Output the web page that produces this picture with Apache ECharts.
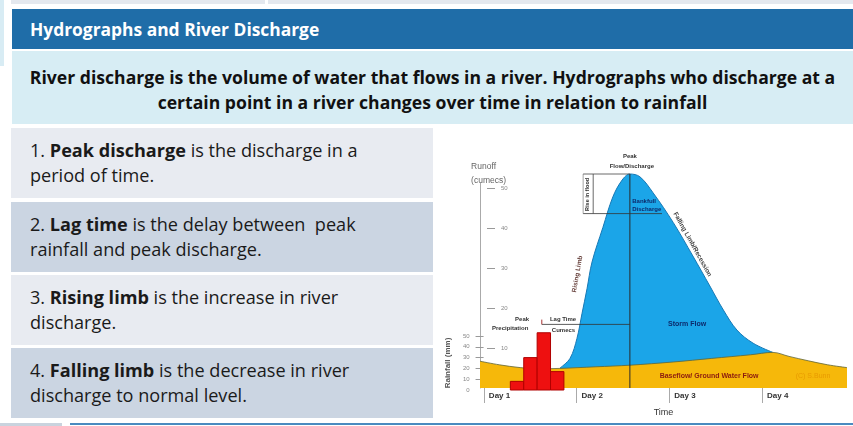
<!DOCTYPE html>
<html>
<head>
<meta charset="utf-8">
<script src="https://cdn.jsdelivr.net/npm/echarts@6/dist/echarts.min.js"></script>
<style>
  html, body { margin: 0; padding: 0; width: 853px; height: 426px; overflow: hidden; background: #fff; font-family: "Open Sans", Lato, sans-serif; }
  .abs { position: absolute; }
  #topstrip1 { left: 11px; top: 0; width: 254px; height: 4px; background: #E4E8EE; }
  #topstrip2 { left: 268px; top: 0; width: 585px; height: 4px; background: #E4E8EE; }
  #leftstrip { left: 0; top: 0; width: 4px; height: 66px; background: #D8ECF4; }
  #header { left: 12px; top: 9px; width: 841px; height: 40px; background: #1F6DA8; color: #fff; font-weight: bold; font-size: 17.4px; line-height: 40px; padding-left: 18px; box-sizing: border-box; white-space: nowrap; }
  #sub { left: 12px; top: 51px; width: 841px; height: 73px; background: #D7EDF4; color: #111; font-weight: bold; font-size: 17.6px; line-height: 25px; text-align: center; padding-top: 14px; box-sizing: border-box; white-space: nowrap; }
  .box { left: 11px; width: 422px; height: 70px; color: #1a1a1a; font-size: 18.1px; line-height: 25px; padding: 10px 0 0 19px; box-sizing: border-box; white-space: nowrap; }
  .lt { background: #E8EBF1; }
  .dk { background: #CBD5E2; }
  #botl { left: 0; top: 423px; width: 62px; height: 3px; background: #C9D3DE; }
  #botr { left: 70px; top: 423px; width: 783px; height: 2px; background: #4A8BC0; }
  #chart { left: 436px; top: 126px; width: 417px; height: 296px; }
</style>
</head>
<body>
<div class="abs" id="topstrip1"></div>
<div class="abs" id="topstrip2"></div>
<div class="abs" id="leftstrip"></div>
<div class="abs" id="header">Hydrographs and River Discharge</div>
<div class="abs" id="sub">River discharge is the volume of water that flows in a river. Hydrographs who discharge at a<br>certain point in a river changes over time in relation to rainfall</div>
<div class="abs box lt" style="top:128px">1. <b>Peak discharge</b> is the discharge in a<br>period of time.</div>
<div class="abs box dk" style="top:202px">2. <b>Lag time</b> is the delay between &nbsp;peak<br>rainfall and peak discharge.</div>
<div class="abs box lt" style="top:275px">3. <b>Rising limb</b> is the increase in river<br>discharge.</div>
<div class="abs box dk" style="top:348px">4. <b>Falling limb</b> is the decrease in river<br>discharge to normal level.</div>
<div class="abs" id="botl"></div>
<div class="abs" id="botr"></div>
<div class="abs" id="chart"></div>
<script>
// ---- data (hours since start, runoff in cumecs, rainfall in mm) ----
const dayTicks = [1, 25, 49, 73];
const dayLabels = ['Day 1', 'Day 2', 'Day 3', 'Day 4'];
const runoffTicks = [10, 20, 30, 40, 50];
const rainTickValues = [10, 20, 30, 40, 50];
const rainLabelValues = [0, 10, 20, 30, 40, 50];

// total discharge (storm flow + baseflow)
const stormHours = [20.7, 23.3, 25.1, 26.4, 27.7, 29.0, 31.8, 34.4, 36.8, 38.8, 41.4, 44.8, 50.0, 55.1, 59.5, 63.0, 66.5, 70.7, 75.8];
const stormValues = [5.0, 7.4, 12.4, 18.6, 24.8, 31.5, 40.1, 47.8, 52.0, 53.5, 52.8, 48.8, 41.4, 33.0, 25.5, 19.5, 14.5, 11.2, 8.9];

// baseflow / ground water flow
const baseHours = [0, 5, 10.4, 15, 20.7, 30, 38.8, 50, 60, 70, 75.8, 80, 85, 90, 95];
const baseValues = [6.7, 5.8, 5.1, 4.8, 4.9, 5.3, 5.7, 6.5, 7.4, 8.3, 8.9, 7.9, 6.8, 5.8, 5.1];

// rainfall blocks
const rainStart = [7, 10.5, 14, 17.5];
const rainEnd = [10.5, 14, 17.5, 21];
const rainValues = [8, 30, 53, 17];

const peakHour = 38.8;
const peakValue = 53.5;

const chart = echarts.init(document.getElementById('chart'));

const pairs = (xs, ys) => xs.map((x, i) => [x, ys[i]]);
const hidX = (g) => ({ type: 'value', gridIndex: g, min: 0, max: 95, show: false });

chart.setOption({
  animation: false,
  textStyle: { fontFamily: 'Liberation Sans, sans-serif' },
  grid: [
    { left: 44, right: 6, top: 42, bottom: 32 },
    { left: 44, right: 6, top: 57, bottom: 34 },
    { left: 44, right: 6, top: 210, bottom: 32 }
  ],
  xAxis: [
    {
      type: 'value', gridIndex: 0, min: 0, max: 95, offset: 2,
      axisLine: { show: false },
      splitLine: { show: false },
      axisTick: { show: true, customValues: dayTicks, length: 15, lineStyle: { color: '#aaa' } },
      axisLabel: {
        customValues: dayTicks, align: 'left', padding: [0, 0, 0, 5], margin: 2,
        fontSize: 8, color: '#333', fontWeight: 'bold',
        formatter: (v) => dayLabels[dayTicks.indexOf(v)] || ''
      },
      name: 'Time', nameLocation: 'middle', nameGap: 18,
      nameTextStyle: { fontSize: 9, color: '#333' }
    },
    hidX(1), hidX(2)
  ],
  yAxis: [
    {
      type: 'value', gridIndex: 0, min: 0, max: 55, position: 'left', offset: -7,
      axisLine: { show: false }, splitLine: { show: false },
      axisTick: { show: true, inside: true, length: 8, customValues: runoffTicks, lineStyle: { color: '#999' } },
      axisLabel: { inside: true, margin: 14, customValues: runoffTicks, fontSize: 6, color: '#888' }
    },
    {
      type: 'value', gridIndex: 1, min: 0, max: 1, position: 'left',
      axisLine: { show: true, lineStyle: { color: '#aaa', width: 1 } },
      axisTick: { show: false }, axisLabel: { show: false }, splitLine: { show: false }
    },
    {
      type: 'value', gridIndex: 2, min: 0, max: 50, position: 'left', offset: 2,
      axisLine: { show: false }, splitLine: { show: false },
      axisTick: { show: true, length: 8, customValues: rainTickValues, lineStyle: { color: '#999' } },
      axisLabel: { margin: 12, customValues: rainLabelValues, fontSize: 6, color: '#888' },
      name: 'Rainfall (mm)', nameLocation: 'middle', nameRotate: 90, nameGap: 27,
      nameTextStyle: { fontSize: 8, color: '#555', fontWeight: 'bold' }
    }
  ],
  series: [
    {
      name: 'Storm Flow', type: 'line', xAxisIndex: 0, yAxisIndex: 0,
      data: pairs(stormHours, stormValues), smooth: 0.35, symbol: 'none', clip: false, z: 2,
      lineStyle: { color: '#1678B5', width: 1 },
      areaStyle: { color: '#1BA5E8', opacity: 1 }
    },
    {
      name: 'Baseflow', type: 'line', xAxisIndex: 0, yAxisIndex: 0,
      data: pairs(baseHours, baseValues), smooth: 0.35, symbol: 'none', clip: false, z: 3,
      lineStyle: { color: '#5e6437', width: 0.8 },
      areaStyle: { color: '#F6B80A', opacity: 1 }
    },
    {
      name: 'Rainfall', type: 'custom', xAxisIndex: 2, yAxisIndex: 2, z: 4,
      data: rainStart.map((s, i) => [s, rainEnd[i], rainValues[i]]),
      renderItem: (params, api) => {
        const p0 = api.coord([api.value(0), api.value(2)]);
        const p1 = api.coord([api.value(1), 0]);
        return {
          type: 'rect',
          shape: { x: p0[0], y: p0[1], width: p1[0] - p0[0], height: p1[1] - p0[1] },
          style: { fill: '#EE1010', stroke: '#B00000', lineWidth: 1 }
        };
      }
    }
  ]
});

// ---- annotations positioned in data coordinates ----
const P = (h, v) => chart.convertToPixel({ xAxisIndex: 0, yAxisIndex: 0 }, [h, v]);
const lineEl = (a, b, color, w) => ({ type: 'line', shape: { x1: a[0], y1: a[1], x2: b[0], y2: b[1] }, style: { stroke: color || '#333', lineWidth: w || 1 }, z: 100 });
const textEl = (txt, at, opts) => {
  opts = opts || {};
  return {
    type: 'text', x: at[0], y: at[1], rotation: (opts.rot || 0) * Math.PI / 180, z: 101,
    style: {
      text: txt, x: 0, y: 0, align: opts.align || 'center', verticalAlign: 'middle',
      fill: opts.color || '#333', font: (opts.weight || 'bold') + ' ' + (opts.size || 6) + 'px "Liberation Sans", sans-serif'
    }
  };
};

const riseLeft = 26.7, riseRight = 29.3, bankValue = 43.6, bankEnd = 47.1;
const lagValue = 15.9, lagStart = 16.0;

const els = [
  lineEl(P(peakHour, 0), P(peakHour, peakValue), '#2a2a2a', 1),
  // rise in flood bracket
  lineEl(P(riseLeft, peakValue), P(peakHour, peakValue), '#444', 0.8),
  lineEl(P(riseLeft, bankValue), P(bankEnd, bankValue), '#333', 0.8),
  lineEl(P(riseLeft, bankValue), P(riseLeft, peakValue), '#666', 0.6),
  lineEl(P(riseRight, bankValue), P(riseRight, peakValue), '#444', 0.8),
  // lag time
  lineEl(P(lagStart, lagValue), P(peakHour, lagValue), '#333', 0.8),
  lineEl(P(lagStart, lagValue), P(lagStart, lagValue + 1.2), '#a33', 1),
  textEl('Peak', P(peakHour, 57.8)),
  textEl('Flow/Discharge', P(39.3, 55.3)),
  textEl('Rise in flood', P(27.9, 48.4), { rot: 90, size: 5.5 }),
  textEl('Bankfull', P(39.4, 46.7), { align: 'left', color: '#0d2a6b' }),
  textEl('Discharge', P(39.4, 44.6), { align: 'left', color: '#0d2a6b' }),
  textEl('Lag Time', P(18.1, 17.2), { align: 'left' }),
  textEl('Cumecs', P(18.6, 14.5), { align: 'left' }),
  textEl('Peak', P(10.9, 17.2)),
  textEl('Precipitation', P(7.8, 14.9)),
  textEl('Rising Limb', P(25.2, 28.5), { rot: 80, size: 6.5, color: '#6a4540' }),
  textEl('Falling Limb/Recession', P(55.0, 35.9), { rot: -61, size: 6.5, color: '#444' }),
  textEl('Storm Flow', P(53.6, 16.1), { size: 7, color: '#0d2a6b' }),
  textEl('Baseflow/ Ground Water Flow', P(59.3, 3.0), { size: 7, color: '#8a1a10' }),
  textEl('(C) S.Bunn', P(86.2, 3.0), { size: 7, color: '#e89a00', weight: 'normal' }),
  textEl('Runoff', P(-2.3, 55.4), { align: 'left', size: 8.5, color: '#666', weight: 'normal' }),
  textEl('(cumecs)', P(-2.3, 51.8), { align: 'left', size: 8.5, color: '#666', weight: 'normal' })
];
chart.setOption({ graphic: { elements: els } });
</script>
</body>
</html>
